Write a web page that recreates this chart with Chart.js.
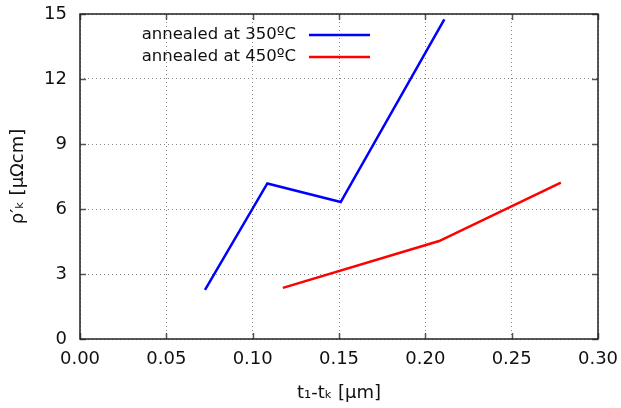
<!DOCTYPE html>
<html>
<head>
<meta charset="utf-8">
<script src="https://cdn.jsdelivr.net/npm/chart.js@4"></script>
<style>
  html, body { margin: 0; padding: 0; background: #fff; }
  #wrap { width: 621px; height: 408px; }
</style>
</head>
<body>
<div id="wrap"><canvas id="chart" width="621" height="408"></canvas></div>
<script>
// data
const seriesNames = ['annealed at 350ºC', 'annealed at 450ºC'];
const x350 = [0.0724, 0.1085, 0.151, 0.211];
const y350 = [2.27, 7.18, 6.32, 14.75];
const x450 = [0.1175, 0.208, 0.2785];
const y450 = [2.36, 4.52, 7.22];
const xTicks = [0, 0.05, 0.10, 0.15, 0.20, 0.25, 0.30];
const yTicks = [0, 3, 6, 9, 12, 15];

const FONT = 'DejaVu Sans';

function pts(xs, ys) {
  return xs.map((x, i) => ({ x: x, y: ys[i] }));
}

// frame, inner tick marks and the legend in the upper left
const decor = {
  id: 'decor',
  afterDatasetsDraw(chart) {
    const c = chart.ctx;
    const a = chart.chartArea;
    const xs = chart.scales.x, ys = chart.scales.y;
    c.save();
    c.strokeStyle = '#555';
    c.lineWidth = 1.5;
    c.beginPath();
    xTicks.forEach(v => {
      const px = Math.round(xs.getPixelForValue(v)) + 0.5;
      c.moveTo(px, a.bottom); c.lineTo(px, a.bottom - 6);
      c.moveTo(px, a.top); c.lineTo(px, a.top + 6);
    });
    yTicks.forEach(v => {
      const py = Math.round(ys.getPixelForValue(v)) + 0.5;
      c.moveTo(a.left, py); c.lineTo(a.left + 6, py);
      c.moveTo(a.right, py); c.lineTo(a.right - 6, py);
    });
    c.stroke();

    c.strokeStyle = '#222';
    c.lineWidth = 1.5;
    c.strokeRect(a.left, a.top, a.right - a.left, a.bottom - a.top);

    // legend
    const colors = ['#0000ff', '#ff0000'];
    c.font = '16.5px "' + FONT + '"';
    c.textAlign = 'right';
    c.textBaseline = 'middle';
    seriesNames.forEach((name, i) => {
      const y = a.top + 21 + i * 22;
      c.fillStyle = '#111';
      c.fillText(name, a.left + 216, y);
      c.strokeStyle = colors[i];
      c.lineWidth = 2.5;
      c.beginPath();
      c.moveTo(a.left + 229, y);
      c.lineTo(a.left + 290, y);
      c.stroke();
    });
    c.restore();
  }
};

new Chart(document.getElementById('chart'), {
  type: 'scatter',
  data: {
    datasets: [
      {
        label: seriesNames[0],
        data: pts(x350, y350),
        showLine: true,
        borderColor: '#0000ff',
        borderWidth: 2.5,
        pointRadius: 0,
        fill: false,
        tension: 0
      },
      {
        label: seriesNames[1],
        data: pts(x450, y450),
        showLine: true,
        borderColor: '#ff0000',
        borderWidth: 2.5,
        pointRadius: 0,
        fill: false,
        tension: 0
      }
    ]
  },
  options: {
    responsive: false,
    animation: false,
    events: [],
    layout: { padding: { left: 0, right: 23, top: 14, bottom: 0 } },
    plugins: {
      legend: { display: false },
      tooltip: { enabled: false }
    },
    scales: {
      x: {
        type: 'linear',
        min: 0,
        max: 0.3,
        afterBuildTicks: s => { s.ticks = xTicks.map(v => ({ value: v })); },
        afterFit: s => { s.height = 69; s.paddingLeft = 0; s.paddingRight = 0; },
        border: { display: false, dash: [1, 3] },
        grid: {
          color: '#888',
          lineWidth: 1,
          drawTicks: false
        },
        ticks: {
          padding: 10,
          color: '#111',
          font: { family: FONT, size: 18 },
          callback: v => Number(v).toFixed(2)
        },
        title: {
          display: true,
          text: 't₁-tₖ [µm]',
          color: '#111',
          font: { family: FONT, size: 18 },
          padding: { top: 0 }
        }
      },
      y: {
        type: 'linear',
        min: 0,
        max: 15,
        afterBuildTicks: s => { s.ticks = yTicks.map(v => ({ value: v })); },
        afterFit: s => { s.width = 80; s.paddingTop = 0; s.paddingBottom = 0; },
        border: { display: false, dash: [1, 3] },
        grid: {
          color: '#888',
          lineWidth: 1,
          drawTicks: false
        },
        ticks: {
          padding: 13,
          color: '#111',
          font: { family: FONT, size: 18 }
        },
        title: {
          display: true,
          text: 'ρ′ₖ [µΩcm]',
          color: '#111',
          font: { family: FONT, size: 18 },
          padding: { top: 8, bottom: 0 }
        }
      }
    }
  },
  plugins: [decor]
});
</script>
</body>
</html>
